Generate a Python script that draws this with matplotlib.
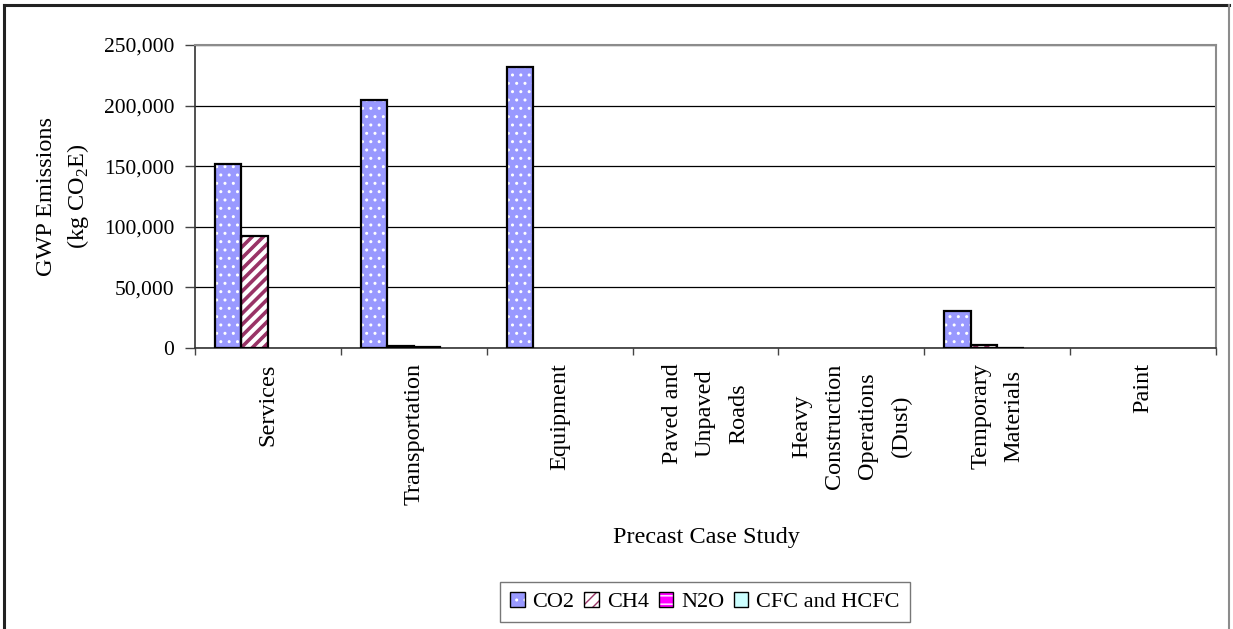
import matplotlib
matplotlib.use("Agg")
import matplotlib.pyplot as plt
import numpy as np
from matplotlib.patches import Patch
from matplotlib.lines import Line2D
from matplotlib.ticker import FuncFormatter, FixedLocator, NullFormatter

# ---- data ----
categories = ["Services", "Transportation", "Equipment", "Paved and\nUnpaved\nRoads",
              "Heavy\nConstruction\nOperations\n(Dust)", "Temporary\nMaterials", "Paint"]
series_names = ["CO2", "CH4", "N2O", "CFC and HCFC"]
co2 = [151500, 204500, 231500, 0, 0, 30500, 0]
ch4 = [92500, 1500, 0, 0, 0, 2500, 0]
n2o = [0, 1200, 0, 0, 0, 300, 0]
cfc = [0, 0, 0, 0, 0, 0, 0]
y_ticks = [0, 50000, 100000, 150000, 200000, 250000]

plt.rcParams["font.family"] = ["Liberation Serif", "DejaVu Serif"]
plt.rcParams["mathtext.fontset"] = "custom"
plt.rcParams["mathtext.rm"] = "Liberation Serif"

fs_tick = 15.5
fs = 17.5
fig = plt.figure(figsize=(12.33, 6.29), dpi=100)
W, H = 1233, 629
ax = fig.add_axes([195 / W, 1 - 348 / H, (1216 - 195) / W, (348 - 45) / H])

# series styles: face colour, hatch, hatch colour, hatch linewidth
styles = [
    ("#9999FF", "..", "white", 1.0),
    ("white", "///", "#993366", 2.6),
    ("#FF00FF", "--", "white", 1.6),
    ("#CCFFFF", None, None, 1.0),
]
values = [co2, ch4, n2o, cfc]
x = np.arange(len(categories))
n = len(series_names)
w = 1.0 / (n + 1.5)

handles = []
for i, (vals, (fc, hatch, hc, hlw)) in enumerate(zip(values, styles)):
    pos = x + (i - (n - 1) / 2) * w
    edge_w = [1.6 if v > 0 else 0 for v in vals]
    ax.bar(pos, vals, width=w, color=fc, edgecolor="none", linewidth=0, zorder=3)
    parts = [Patch(facecolor=fc, edgecolor="none", linewidth=0)]
    if hatch:
        with plt.rc_context({"hatch.linewidth": hlw}):
            ax.bar(pos, vals, width=w, facecolor="none", edgecolor=hc, hatch=hatch,
                   linewidth=0, zorder=3.5)
            parts.append(Patch(facecolor="none", edgecolor=hc, hatch=hatch, linewidth=0))
    ax.bar(pos, vals, width=w, facecolor="none", edgecolor="black", linewidth=edge_w, zorder=4)
    parts.append(Patch(facecolor="none", edgecolor="black", linewidth=1.0))
    handles.append(tuple(parts))

ax.set_xlim(-0.5, len(categories) - 0.5)
ax.set_ylim(0, 250000)
ax.set_yticks(y_ticks)
ax.yaxis.set_major_formatter(FuncFormatter(lambda v, p: f"{int(v):,}"))
ax.grid(axis="y", color="black", linewidth=0.9, zorder=1)
ax.set_axisbelow(True)

# category boundaries carry the tick marks, centres carry the labels
ax.xaxis.set_major_locator(FixedLocator(np.arange(-0.5, len(categories), 1.0)))
ax.xaxis.set_major_formatter(NullFormatter())
ax.xaxis.set_minor_locator(FixedLocator(x))
ax.set_xticklabels(categories, minor=True, rotation=90, fontsize=fs,
                   ha="center", va="top", multialignment="center", linespacing=1.75)
ax.tick_params(axis="x", which="major", direction="out", length=5, width=1, color="#444444")
ax.tick_params(axis="x", which="minor", length=0, pad=11)
ax.tick_params(axis="y", direction="out", length=7, width=1, color="#444444",
               labelsize=fs_tick, pad=8)

for s in ["left", "bottom"]:
    ax.spines[s].set_color("#333333")
    ax.spines[s].set_linewidth(1.2)
for s in ["top", "right"]:
    ax.spines[s].set_color("#8c8c8c")
    ax.spines[s].set_linewidth(1.5)

ax.set_ylabel("GWP Emissions\n(kg CO$_2$E)", fontsize=fs, linespacing=1.4)
ax.yaxis.set_label_coords(-0.102, 0.5)

fig.text(706 / W, 1 - 538 / H, "Precast Case Study", fontsize=fs, ha="center", va="center")

leg = fig.legend(handles, series_names, loc="center", bbox_to_anchor=(705 / W, 1 - 602 / H),
                 ncol=4, fontsize=16, frameon=True, fancybox=False, edgecolor="#555555",
                 handlelength=0.65, handleheight=0.65, handletextpad=0.35, columnspacing=0.45,
                 borderpad=0.45)
leg.get_frame().set_linewidth(1.0)

# outer chart border
fig.add_artist(Line2D([4 / W, 4 / W], [0, 1 - 5 / H], transform=fig.transFigure,
                      color="#222222", linewidth=2.2))
fig.add_artist(Line2D([4 / W, 1229 / W], [1 - 5 / H, 1 - 5 / H], transform=fig.transFigure,
                      color="#222222", linewidth=2.2))
fig.add_artist(Line2D([1229 / W, 1229 / W], [0, 1 - 5 / H], transform=fig.transFigure,
                      color="#8c8c8c", linewidth=1.5))

fig.savefig("out.png", dpi=100)
